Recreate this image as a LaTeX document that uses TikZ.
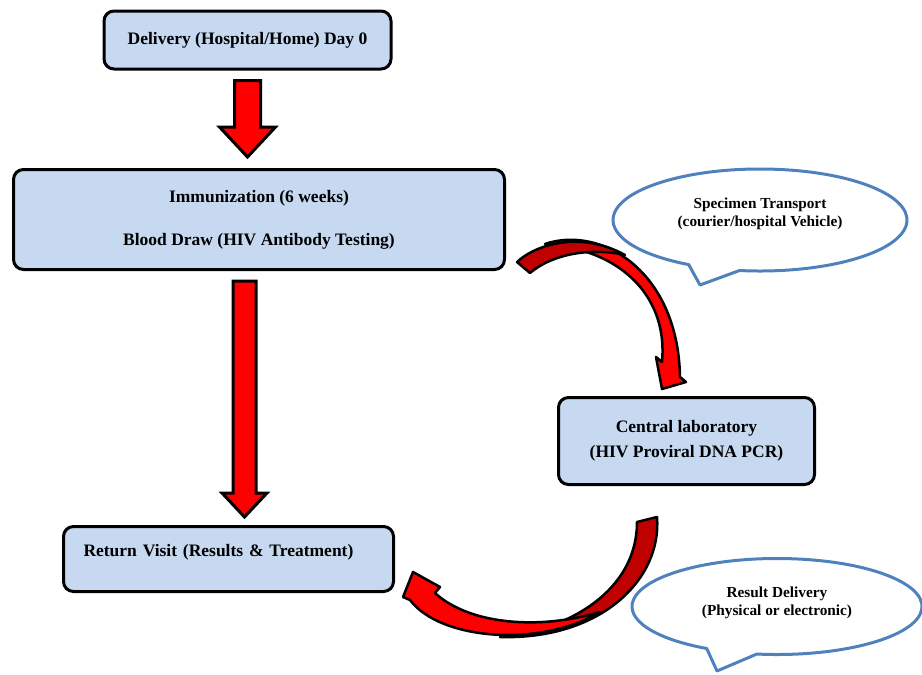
\documentclass[tikz,border=0pt]{standalone}
\usepackage{fontspec}
\setmainfont{Liberation Serif}
\usepackage{tikz}
\usetikzlibrary{positioning, shapes.geometric}
\usetikzlibrary{calc}
\definecolor{boxblue}{HTML}{C6D9F1}
\definecolor{calloutblue}{HTML}{4F81BD}
\definecolor{darkred}{HTML}{C00000}
\tikzstyle{process} = [rectangle, rounded corners=10pt, line width=3pt, draw=black, fill=boxblue, text centered, font=\fontsize{17.5}{21}\selectfont\bfseries]
\tikzstyle{calloutline} = [line width=3pt, draw=calloutblue, line join=round]
\tikzstyle{callouttext} = [align=center, font=\fontsize{15.3}{18.5}\selectfont\bfseries]
\tikzstyle{ribbon} = [line width=2.5pt, draw=black, fill=red, line join=round]
\tikzstyle{ribbonback} = [ribbon, fill=darkred]
\tikzset{downarrow/.style n args={3}{line width=3pt, draw=black, fill=red, line join=miter,
  to path={let \p1=(\tikztostart), \p2=(\tikztotarget) in
    (\x1-#1pt,\y1) -- (\x1+#1pt,\y1) -- (\x1+#1pt,\y2+#3pt) -- (\x1+#2pt,\y2+#3pt)
    -- (\x1,\y2) -- (\x1-#2pt,\y2+#3pt) -- (\x1-#1pt,\y2+#3pt) -- cycle}}}

\begin{document}
\begin{tikzpicture}[x=1pt, y=1pt]
		\useasboundingbox (0,0) rectangle (922,-675);
		\node (deliv) [process, minimum width=287pt, minimum height=58pt] at (247.5,-40) {Delivery (Hospital/Home) Day 0};
		\node (immun) [process, minimum width=491pt, minimum height=100pt, align=center] at (259,-219.5) {Immunization (6 weeks)\\[22pt]Blood Draw (HIV Antibody Testing)};
		\node (lab) [process, minimum width=256pt, minimum height=87pt, align=center] at (686.5,-441) {Central laboratory\\[4pt](HIV Proviral DNA PCR)};
		\node (ret) [process, minimum width=330pt, minimum height=65pt, text width=290pt, align=left, text depth=18pt] at (228.5,-559) {Return Visit (Results \& Treatment)};
		% callouts
		\node (spec) [callouttext] at (760,-214) {Specimen Transport\\(courier/hospital Vehicle)};
		\coordinate (spectip) at (700,-285);
		\draw [calloutline] ($(760,-220)+(262:147 and 51)$) arc[start angle=262, end angle=601, x radius=147, y radius=51] -- (spectip) -- cycle;
		\node (result) [callouttext] at (777,-603) {Result Delivery\\(Physical or electronic)};
		\coordinate (resulttip) at (717,-671);
		\draw [calloutline] ($(777,-606.5)+(262:145 and 48)$) arc[start angle=262, end angle=601, x radius=145, y radius=48] -- (resulttip) -- cycle;
		% straight arrows
		\draw [downarrow={13}{28}{30}] ($(deliv.south)+(0,-10)$) to ($(immun.north)+(0,11)$);
		\draw [downarrow={11.5}{22.5}{24}] ($(immun.south)+(-14.5,-10)$) to ($(ret.north)+(0,8)$);
		% curved arrows
		\draw [ribbon] (545,-244) .. controls (600,-225) and (678,-270) .. (680,-377) -- (686,-382) -- (662,-389) -- (656,-357) -- (662,-362) .. controls (668,-300) and (625,-250) .. (545,-244) -- cycle;
		\draw [ribbonback] (517,-262) .. controls (535,-245) and (580,-230) .. (625,-255) .. controls (595,-248) and (555,-252) .. (530,-273) -- cycle;
		\draw [ribbonback] (637,-522) -- (657,-517) .. controls (662,-580) and (600,-640) .. (500,-637) .. controls (570,-630) and (637,-590) .. (637,-522) -- cycle;
		\draw [ribbon] (410,-600) .. controls (440,-640) and (540,-648) .. (600,-612) .. controls (540,-630) and (470,-625) .. (435,-593) -- (440,-587) -- (413,-572) -- (403,-597) -- cycle;
	\end{tikzpicture}
\end{document}
